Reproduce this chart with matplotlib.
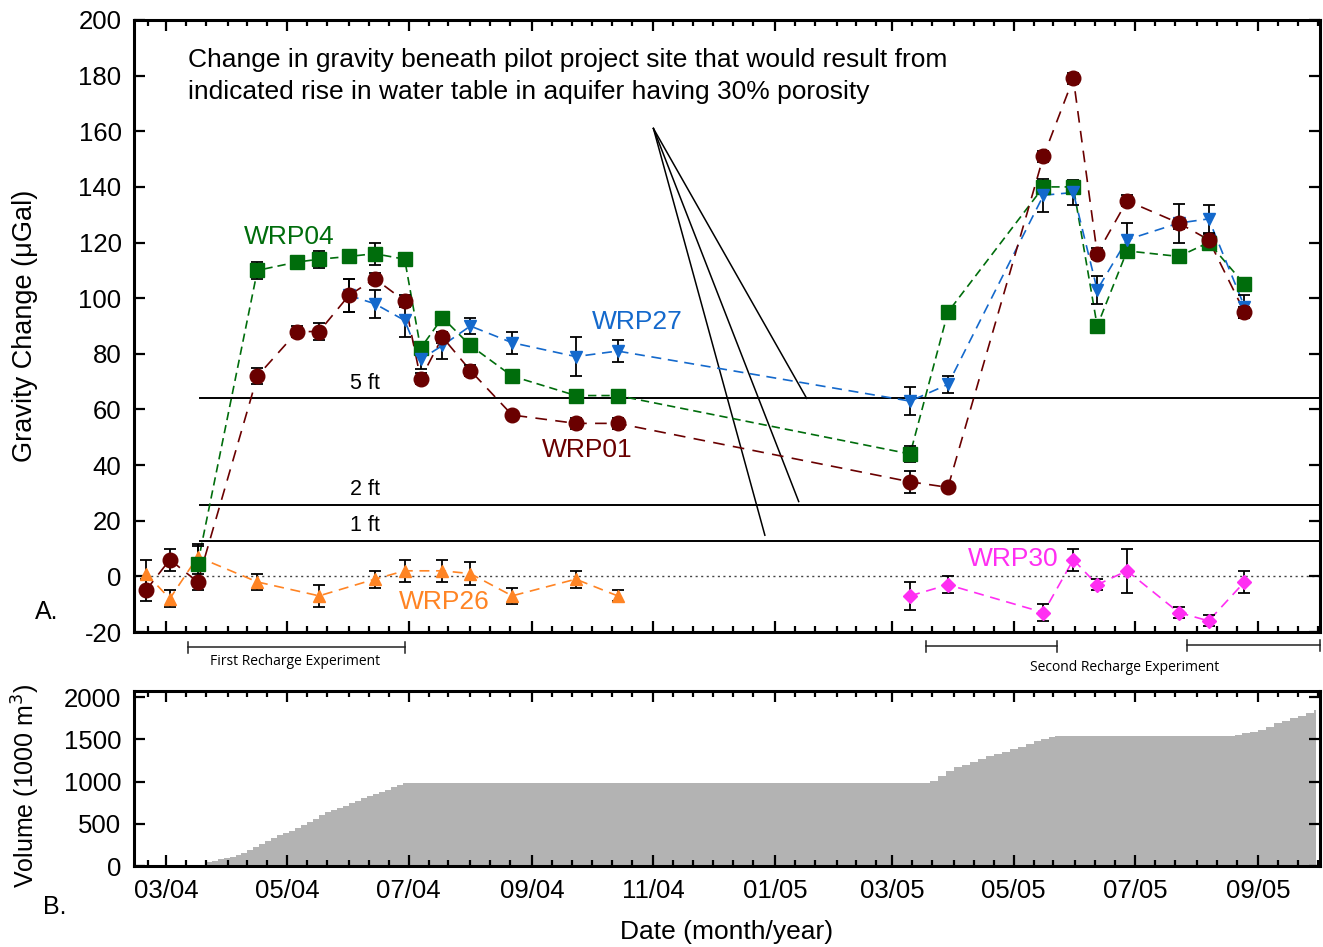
import datetime as dt
import matplotlib
matplotlib.use("Agg")
import matplotlib.pyplot as plt
import matplotlib.dates as mdates
from matplotlib.lines import Line2D

plt.rcParams['font.family'] = ['Liberation Sans', 'DejaVu Sans']
plt.rcParams['axes.unicode_minus'] = False

def d(s):
    return dt.datetime.strptime(s, "%Y-%m-%d")

# ---- survey dates -------------------------------------------------------
survey_dates = ["2004-02-20", "2004-03-03", "2004-03-17", "2004-04-16", "2004-05-06",
                "2004-05-17", "2004-06-01", "2004-06-14", "2004-06-29", "2004-07-07",
                "2004-07-18", "2004-08-01", "2004-08-22", "2004-09-23", "2004-10-14",
                "2005-03-10", "2005-03-29", "2005-05-16", "2005-05-31", "2005-06-12",
                "2005-06-27", "2005-07-23", "2005-08-07", "2005-08-25"]

# ---- gravity change (uGal) and 1-sigma errors ----------------------------
wrp01_dates = survey_dates
wrp01 = [-5, 6, -2, 72, 88, 88, 101, 107, 99, 71, 86, 74, 58, 55, 55,
         34, 32, 151, 179, 116, 135, 127, 121, 95]
wrp01_err = [4, 4, 3, 3, 2, 3, 6, 2, 2, 2, 2, 2, 1, 2, 2,
             4, 1, 2, 2, 2, 2, 2, 2, 2]

wrp04_dates = survey_dates[2:]
wrp04 = [4.5, 110, 113, 114, 115, 116, 114, 82, 93, 83, 72, 65, 65,
         44, 95, 140, 140, 90, 117, 115, 120, 105]
wrp04_err = [7, 3, 1.5, 3, 1, 4, 1, 2, 1, 1, 1, 1, 1,
             3, 1, 2, 2, 1, 2, 1, 1, 1]

wrp27_dates = survey_dates[6:]
wrp27 = [101, 98, 92, 78, 83, 90, 84, 79, 81,
         63, 69, 137, 138, 103, 121, 127, 128.5, 97]
wrp27_err = [6, 5, 6, 3.5, 5, 3, 4, 7, 4,
             5, 3, 6, 4.5, 5, 6, 7, 5, 4]

wrp26_dates = ["2004-02-20", "2004-03-03", "2004-03-17", "2004-04-16", "2004-05-17",
               "2004-06-14", "2004-06-29", "2004-07-18", "2004-08-01", "2004-08-22",
               "2004-09-23", "2004-10-14"]
wrp26 = [1, -8, 7, -2, -7, -1, 2, 2, 1, -7, -1, -7]
wrp26_err = [5, 3, 4, 3, 4, 3, 4, 4, 4, 3, 3, 2]

wrp30_dates = ["2005-03-10", "2005-03-29", "2005-05-16", "2005-05-31", "2005-06-12",
               "2005-06-27", "2005-07-23", "2005-08-07", "2005-08-25"]
wrp30 = [-7, -3, -13, 6, -3, 2, -13, -16, -2]
wrp30_err = [5, 3, 3, 4, 2, 8, 2, 2, 4]

# ---- predicted gravity change for water-table rise (30 % porosity) -------
rise_labels = ["1 ft", "2 ft", "5 ft"]
rise_gravity = [12.8, 25.6, 64.0]

# ---- recharge experiments -------------------------------------------------
first_recharge = [("2004-03-12", "2004-06-29")]
second_recharge = [("2005-03-18", "2005-05-23"), ("2005-07-27", "2005-10-02")]

# ---- cumulative recharge volume (1000 m^3) --------------------------------
vol_dates = ["2004-02-14", "2004-03-21", "2004-03-24", "2004-03-27", "2004-03-30",
             "2004-04-02", "2004-04-05", "2004-04-08", "2004-04-11", "2004-04-14",
             "2004-04-17", "2004-04-20", "2004-04-23", "2004-04-26", "2004-04-29",
             "2004-05-02", "2004-05-05", "2004-05-08", "2004-05-11", "2004-05-14",
             "2004-05-17", "2004-05-20", "2004-05-23", "2004-05-26", "2004-05-29",
             "2004-06-01", "2004-06-04", "2004-06-07", "2004-06-10", "2004-06-13",
             "2004-06-16", "2004-06-19", "2004-06-22", "2004-06-25", "2004-06-28",
             "2005-03-17", "2005-03-20", "2005-03-24", "2005-03-28", "2005-04-01",
             "2005-04-05", "2005-04-09", "2005-04-13", "2005-04-17", "2005-04-21",
             "2005-04-25", "2005-04-29", "2005-05-03", "2005-05-07", "2005-05-11",
             "2005-05-15", "2005-05-19", "2005-05-22", "2005-08-17", "2005-08-20",
             "2005-08-24", "2005-08-28", "2005-09-01", "2005-09-05", "2005-09-09",
             "2005-09-13", "2005-09-17", "2005-09-21", "2005-09-25", "2005-09-29"]
vol_values = [0, 45, 60, 80, 95, 110,
              130, 160, 190, 225, 260, 295, 330, 365, 395,
              420, 455, 490, 525, 560, 600, 635, 665, 690, 715,
              745, 775, 800, 830, 855, 880, 905, 930, 960, 980,
              980, 1010, 1060, 1120, 1170, 1200, 1235, 1270, 1300, 1330,
              1355, 1385, 1410, 1440, 1475, 1500, 1525, 1535, 1535, 1550,
              1570, 1590, 1615, 1650, 1690, 1720, 1750, 1780, 1810, 1845]
vol_end = "2005-09-30"

# ---- styling --------------------------------------------------------------
C01 = "#6a0000"
C04 = "#006d0c"
C27 = "#1469cc"
C26 = "#ff8424"
C30 = "#ff2ef2"

x_start, x_end = d("2004-02-14"), d("2005-10-02")

fig = plt.figure(figsize=(13.23, 9.47), dpi=100)
ax1 = fig.add_axes([0.1013, 0.3326, 0.8965, 0.6463])
ax2 = fig.add_axes([0.1013, 0.0855, 0.8965, 0.1851])


def series(ax, dates, vals, errs, color, marker, ms, dashes):
    xs = [d(s) for s in dates]
    ax.plot(xs, vals, color=color, lw=1.2, dashes=dashes, zorder=3)
    ax.errorbar(xs, vals, yerr=errs, fmt="none", ecolor="black", elinewidth=1.3,
                capsize=4.5, capthick=1.3, zorder=3.5)
    ax.plot(xs, vals, ls="none", marker=marker, ms=ms, color=color,
            mec=color, zorder=4)


ax1.axhline(0, color="#444444", lw=1.0, ls=(0, (1.5, 2.5)), zorder=1)
for val in rise_gravity:
    ax1.plot([d("2004-03-18"), x_end], [val, val], color="black", lw=1.4, zorder=2)

series(ax1, wrp26_dates, wrp26, wrp26_err, C26, "^", 8.5, (6, 4))
series(ax1, wrp30_dates, wrp30, wrp30_err, C30, "D", 7, (6, 4))
series(ax1, wrp04_dates, wrp04, wrp04_err, C04, "s", 9.5, (5, 3))
series(ax1, wrp27_dates, wrp27, wrp27_err, C27, "v", 9, (6, 4))
series(ax1, wrp01_dates, wrp01, wrp01_err, C01, "o", 10.5, (7, 5))

# rise labels and pointer lines
for lab, val in zip(rise_labels, rise_gravity):
    ax1.text(d("2004-06-09"), val + 5.5, lab, ha="center", va="center", fontsize=15.5)

apex = (d("2004-11-01"), 161)
for end in [(d("2005-01-17"), 64.0), (d("2005-01-13"), 26.9), (d("2004-12-27"), 14.8)]:
    ax1.plot([apex[0], end[0]], [apex[1], end[1]], color="black", lw=1.1, zorder=2)

ax1.text(0.0455, 0.955,
         "Change in gravity beneath pilot project site that would result from\n"
         "indicated rise in water table in aquifer having 30% porosity",
         transform=ax1.transAxes, ha="left", va="top", fontsize=19, linespacing=1.45)

lab_kw = dict(ha="left", va="center", fontsize=19)
ax1.text(d("2004-04-09"), 122, "WRP04", color=C04, **lab_kw)
ax1.text(d("2004-10-01"), 91.4, "WRP27", color=C27, **lab_kw)
ax1.text(d("2004-09-06"), 45.4, "WRP01", color=C01, **lab_kw)
ax1.text(d("2004-06-26"), -9.2, "WRP26", color=C26, **lab_kw)
ax1.text(d("2005-04-08"), 6.3, "WRP30", color=C30, **lab_kw)

# volume panel
vx = [d(s) for s in vol_dates] + [d(vol_end)]
vy = vol_values + [vol_values[-1]]
ax2.fill_between(vx, vy, step="post", color="#b3b3b3", lw=0, zorder=1)

# axes formatting
for ax in (ax1, ax2):
    ax.set_xlim(x_start, x_end)
    ax.xaxis.set_major_locator(mdates.MonthLocator(bymonth=[1, 3, 5, 7, 9, 11]))
    ax.xaxis.set_minor_locator(mdates.DayLocator(bymonthday=[1, 11, 21]))
    ax.tick_params(which="both", direction="in", top=True, right=True, width=1.6,
                   labelsize=18.5, pad=9)
    ax.tick_params(which="major", length=8)
    ax.tick_params(which="minor", length=4)
    ax.tick_params(axis="y", which="minor", right=False, left=False)
    for sp in ax.spines.values():
        sp.set_linewidth(2.2)

ax1.set_ylim(-20, 200)
ax1.set_yticks(range(-20, 201, 20))
ax1.tick_params(axis="x", labelbottom=False)
ax1.set_ylabel("Gravity Change (μGal)", fontsize=19.5)
ax1.yaxis.set_label_coords(-0.081, 0.50)

ax2.set_ylim(0, 2075)
ax2.set_yticks([0, 500, 1000, 1500, 2000])
ax2.xaxis.set_major_formatter(mdates.DateFormatter("%m/%y"))
ax2.set_ylabel("Volume (1000 m$^3$)", fontsize=18)
ax2.yaxis.set_label_coords(-0.078, 0.46)
ax2.set_xlabel("Date (month/year)", fontsize=19)
ax2.xaxis.set_label_coords(0.5, -0.31)

# recharge experiment brackets below the upper panel
trans = ax1.get_xaxis_transform()
small_font = dict(fontsize=10, family=["Liberation Sans Narrow", "Open Sans", "DejaVu Sans"])
for (a, b), yb in zip(first_recharge, [-0.0245]):
    xa, xb = d(a), d(b)
    ax1.add_line(Line2D([xa, xb], [yb, yb], transform=trans, color="#222222", lw=1.1, clip_on=False))
    for xx in (xa, xb):
        ax1.add_line(Line2D([xx, xx], [yb - 0.009, yb + 0.009], transform=trans,
                            color="#222222", lw=1.1, clip_on=False))
ax1.text(d("2004-05-05"), -0.048, "First Recharge Experiment", transform=trans,
         ha="center", va="center", **small_font)
for (a, b), yb in zip(second_recharge, [-0.023, -0.0215]):
    xa, xb = d(a), d(b)
    ax1.add_line(Line2D([xa, xb], [yb, yb], transform=trans, color="#222222", lw=1.1, clip_on=False))
    for xx in (xa, xb):
        ax1.add_line(Line2D([xx, xx], [yb - 0.009, yb + 0.009], transform=trans,
                            color="#222222", lw=1.1, clip_on=False))
ax1.text(d("2005-06-26"), -0.058, "Second Recharge Experiment", transform=trans,
         ha="center", va="center", **small_font)

fig.text(47 / 1323, 1 - 612 / 947, "A.", fontsize=18, ha="center", va="center")
fig.text(55 / 1323, 1 - 907 / 947, "B.", fontsize=18, ha="center", va="center")

fig.savefig("out.png", dpi=100)
